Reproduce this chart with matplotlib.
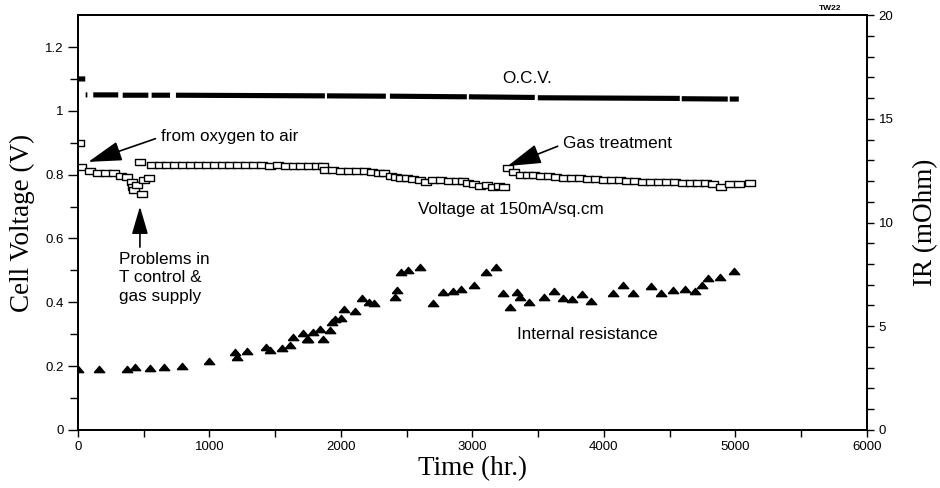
import matplotlib
matplotlib.use("Agg")
import matplotlib.pyplot as plt
import numpy as np
from matplotlib.ticker import MultipleLocator, FixedLocator

# open circuit voltage, NaN marks the gaps in the trace
ocv_t = [0, 55, np.nan, 58, 71, np.nan, 116, 306, np.nan, 340, 535, np.nan,
         560, 700, np.nan, 745, 1878, np.nan, 1894, 2342, np.nan, 2373, 2958, np.nan,
         2974, 3475, np.nan, 3498, 4578, np.nan, 4593, 4943, np.nan, 4958, 5027]
ocv_v = [1.100, 1.100, np.nan, 1.050, 1.050, np.nan, 1.050, 1.050, np.nan, 1.049, 1.049, np.nan,
         1.049, 1.049, np.nan, 1.049, 1.047, np.nan, 1.047, 1.046, np.nan, 1.046, 1.044, np.nan,
         1.044, 1.042, np.nan, 1.041, 1.039, np.nan, 1.038, 1.037, np.nan, 1.037, 1.037]

# cell voltage at 150 mA/sq.cm
volt_t = [10, 20, 90, 150, 210, 270, 330, 370, 410, 420, 425, 450, 470, 485, 500, 540,
          560, 620, 680, 740, 800, 860, 920, 980, 1040, 1100, 1160,
          1220, 1280, 1340, 1400, 1460, 1520, 1580, 1640, 1700, 1760, 1820, 1860,
          1880, 1940, 2000, 2060, 2120, 2180, 2240, 2290, 2330, 2380, 2420,
          2460, 2500, 2550, 2600, 2650, 2700, 2760, 2820, 2880, 2930, 2970,
          3010, 3060, 3110, 3160, 3200, 3240,
          3272, 3320, 3370, 3420, 3470, 3520, 3580, 3640, 3700, 3760, 3820,
          3880, 3940, 4000, 4060, 4120, 4180, 4240, 4300, 4360, 4420, 4480,
          4540, 4600, 4660, 4720, 4780, 4830, 4890, 4960, 5030, 5110]
volt_v = [0.900, 0.825, 0.810, 0.806, 0.805, 0.804, 0.797, 0.793, 0.778, 0.762, 0.752, 0.768, 0.841, 0.740, 0.783, 0.789,
          0.830, 0.830, 0.829, 0.830, 0.830, 0.829, 0.830, 0.830, 0.829, 0.829, 0.830,
          0.829, 0.829, 0.830, 0.829, 0.828, 0.829, 0.828, 0.828, 0.828, 0.828, 0.827, 0.827,
          0.814, 0.814, 0.813, 0.812, 0.811, 0.810, 0.808, 0.806, 0.804, 0.796, 0.792,
          0.790, 0.788, 0.785, 0.782, 0.778, 0.783, 0.782, 0.781, 0.780, 0.779, 0.774,
          0.770, 0.765, 0.769, 0.762, 0.764, 0.762,
          0.820, 0.809, 0.800, 0.799, 0.798, 0.796, 0.795, 0.793, 0.791, 0.790, 0.789,
          0.787, 0.786, 0.784, 0.783, 0.782, 0.780, 0.779, 0.778, 0.777, 0.776, 0.776,
          0.776, 0.775, 0.775, 0.775, 0.774, 0.770, 0.762, 0.770, 0.772, 0.773]

# internal resistance (mOhm)
ir_t = [0, 160, 370, 433, 547, 655, 788, 996, 1195, 1210, 1285, 1427, 1460, 1549, 1612,
        1638, 1714, 1740, 1751, 1790, 1840, 1860, 1916, 1929, 1954, 2004, 2022, 2105,
        2164, 2214, 2250, 2412, 2430, 2460, 2512, 2605, 2697, 2773, 2849, 2917, 3016,
        3107, 3183, 3234, 3285, 3341, 3361, 3430, 3544, 3620, 3690, 3760, 3836, 3906,
        4068, 4145, 4220, 4360, 4438, 4530, 4620, 4697, 4750, 4793, 4887, 4988]
ir_r = [2.95, 2.95, 2.95, 3.05, 3.0, 3.05, 3.1, 3.3, 3.75, 3.5, 3.8, 4.0, 3.85, 3.95, 4.1,
        4.5, 4.66, 4.37, 4.37, 4.74, 4.85, 4.37, 4.82, 5.22, 5.33, 5.38, 5.82, 5.72,
        6.35, 6.15, 6.13, 6.39, 6.75, 7.63, 7.71, 7.87, 6.1, 6.64, 6.71, 6.8, 6.99,
        7.63, 7.84, 6.62, 5.91, 6.67, 6.4, 6.15, 6.4, 6.71, 6.35, 6.3, 6.55, 6.23,
        6.62, 6.97, 6.62, 6.96, 6.62, 6.75, 6.78, 6.71, 6.97, 7.31, 7.36, 7.68]

sans = "Liberation Sans"
serif = "Liberation Serif"
fs = 12.3

fig = plt.figure(figsize=(9.4, 4.88), dpi=100)
ax = fig.add_axes([0.083, 0.119, 0.839, 0.850])
ax2 = ax.twinx()

ax.plot(ocv_t, ocv_v, color="black", lw=3.7, solid_capstyle="butt")

rect = [(-1, -0.55), (1, -0.55), (1, 0.55), (-1, 0.55), (-1, -0.55)]
ax.plot(volt_t, volt_v, ls="none", marker=rect, ms=7.2, mfc="white", mec="black", mew=1.0)

tri = [(-1, -0.6), (1, -0.6), (0, 0.6), (-1, -0.6)]
ax2.plot(ir_t, ir_r, ls="none", marker=tri, ms=7.5, color="black")

ax.set_xlim(0, 6000)
ax.set_ylim(0, 1.3)
ax2.set_ylim(0, 20)

ax.xaxis.set_major_locator(MultipleLocator(1000))
ax.xaxis.set_minor_locator(MultipleLocator(500))
ax.yaxis.set_major_locator(FixedLocator([0, 0.2, 0.4, 0.6, 0.8, 1.0, 1.2]))
ax.yaxis.set_minor_locator(FixedLocator([0.1, 0.3, 0.5, 0.7, 0.9, 1.1]))
ax.set_yticklabels(["0", "0.2", "0.4", "0.6", "0.8", "1", "1.2"])
ax2.yaxis.set_major_locator(MultipleLocator(5))
ax2.yaxis.set_minor_locator(MultipleLocator(1))

for a in (ax, ax2):
    a.tick_params(which="both", direction="out", width=1.0, labelsize=9.5, colors="black")
    a.tick_params(which="major", length=7)
    a.tick_params(which="minor", length=6)
    for lab in a.get_xticklabels() + a.get_yticklabels():
        lab.set_fontfamily(sans)
    for s in a.spines.values():
        s.set_linewidth(1.3)
ax.tick_params(axis="x", which="both", length=5, pad=3)
ax2.tick_params(axis="y", which="both", length=5)

ax.set_xlabel("Time (hr.)", fontfamily=serif, fontsize=19.5, labelpad=2)
ax.set_ylabel("Cell Voltage (V)", fontfamily=serif, fontsize=19.5, labelpad=7)
ax2.set_ylabel("IR (mOhm)", fontfamily=serif, fontsize=19.5, labelpad=14)

head = "-|>,head_length=1.7,head_width=0.5"
ax.annotate("from oxygen to air", xy=(78, 0.84), xytext=(630, 0.921),
            fontsize=fs, fontfamily=sans, va="center", ha="left",
            arrowprops=dict(arrowstyle=head, color="black", lw=1.2, shrinkA=2, shrinkB=0,
                            relpos=(0, 0.45)))
ax.annotate("", xy=(471, 0.70), xytext=(471, 0.573),
            arrowprops=dict(arrowstyle=head, color="black", lw=1.2, shrinkA=0, shrinkB=0))
ax.text(315, 0.558, "Problems in\nT control &\ngas supply", fontsize=fs, fontfamily=sans,
        va="top", ha="left", linespacing=1.3)
ax.annotate("Gas treatment", xy=(3268, 0.827), xytext=(3690, 0.898),
            fontsize=fs, fontfamily=sans, va="center", ha="left",
            arrowprops=dict(arrowstyle=head, color="black", lw=1.2, shrinkA=2, shrinkB=0,
                            relpos=(0, 0.45)))
ax.text(3415, 1.10, "O.C.V.", fontsize=fs, fontfamily=sans, ha="center", va="center")
ax.text(2586, 0.691, "Voltage at 150mA/sq.cm", fontsize=fs, fontfamily=sans,
        ha="left", va="center")
ax.text(3336, 0.298, "Internal resistance", fontsize=fs, fontfamily=sans,
        ha="left", va="center")
fig.text(830 / 940, 1 - 9 / 488, "TW22", fontsize=6, fontfamily=sans, fontweight="bold",
         ha="center", va="center")

fig.savefig("out.png", dpi=100)
